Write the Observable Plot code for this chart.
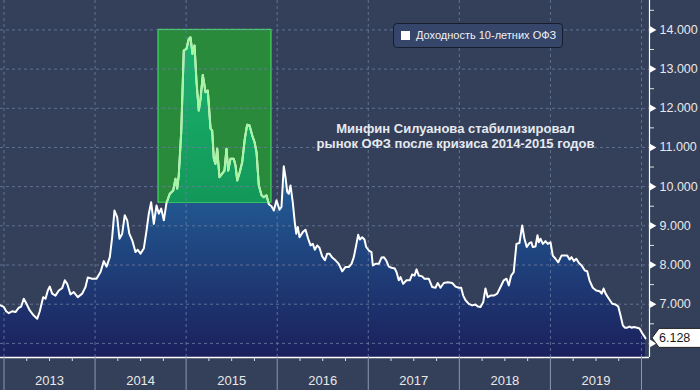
<!DOCTYPE html>
<html><head><meta charset="utf-8">
<script src="https://cdn.jsdelivr.net/npm/d3@7"></script>
<script src="https://cdn.jsdelivr.net/npm/@observablehq/plot@0.6"></script>
<style>
html,body{margin:0;padding:0;background:#343f59;}
#wrap{position:relative;width:700px;height:390px;overflow:hidden;background:#343f59;}
.legend{position:absolute;left:393px;top:23px;width:170px;height:25px;box-sizing:border-box;border:1px solid #161d2e;border-radius:4px;background:#36456a;font:11px "Liberation Sans",Arial,sans-serif;color:#f2f2f2;}
.legend .sw{position:absolute;left:7px;top:7px;width:9px;height:9px;background:#fff;}
.legend .lb{position:absolute;left:22px;top:5px;white-space:nowrap;}
</style></head><body><div id="wrap"></div>
<script>
// decimal years
const dates = [2012.962,2012.998,2013.024,2013.053,2013.090,2013.126,2013.163,2013.189,2013.217,2013.247,2013.283,2013.327,2013.365,2013.393,2013.430,2013.456,2013.481,2013.503,2013.529,2013.565,2013.602,2013.639,2013.668,2013.694,2013.730,2013.766,2013.810,2013.859,2013.895,2013.920,2013.968,2014.016,2014.060,2014.096,2014.126,2014.162,2014.188,2014.213,2014.243,2014.268,2014.298,2014.326,2014.353,2014.375,2014.408,2014.444,2014.469,2014.499,2014.535,2014.565,2014.590,2014.616,2014.645,2014.675,2014.700,2014.726,2014.755,2014.784,2014.821,2014.858,2014.883,2014.902,2014.919,2014.946,2014.974,2015.004,2015.029,2015.048,2015.070,2015.092,2015.114,2015.139,2015.158,2015.183,2015.213,2015.238,2015.268,2015.286,2015.304,2015.322,2015.341,2015.366,2015.396,2015.421,2015.443,2015.462,2015.487,2015.523,2015.542,2015.561,2015.589,2015.616,2015.644,2015.670,2015.696,2015.725,2015.751,2015.773,2015.798,2015.828,2015.853,2015.882,2015.908,2015.937,2015.963,2015.992,2016.025,2016.047,2016.072,2016.091,2016.110,2016.127,2016.146,2016.171,2016.193,2016.209,2016.226,2016.245,2016.281,2016.311,2016.340,2016.366,2016.391,2016.413,2016.439,2016.464,2016.494,2016.523,2016.549,2016.574,2016.604,2016.640,2016.676,2016.714,2016.750,2016.786,2016.816,2016.841,2016.867,2016.889,2016.907,2016.933,2016.958,2016.977,2017.006,2017.035,2017.050,2017.079,2017.116,2017.145,2017.170,2017.197,2017.225,2017.255,2017.291,2017.310,2017.335,2017.354,2017.383,2017.420,2017.456,2017.482,2017.508,2017.530,2017.555,2017.592,2017.617,2017.664,2017.701,2017.738,2017.763,2017.793,2017.829,2017.873,2017.922,2017.958,2017.994,2018.020,2018.042,2018.068,2018.104,2018.141,2018.177,2018.203,2018.232,2018.262,2018.287,2018.312,2018.342,2018.378,2018.416,2018.452,2018.488,2018.518,2018.543,2018.569,2018.597,2018.627,2018.660,2018.690,2018.715,2018.740,2018.769,2018.791,2018.806,2018.836,2018.858,2018.872,2018.891,2018.917,2018.946,2018.971,2019.001,2019.026,2019.056,2019.086,2019.122,2019.158,2019.185,2019.210,2019.232,2019.258,2019.284,2019.313,2019.342,2019.378,2019.404,2019.429,2019.465,2019.503,2019.541,2019.563,2019.584,2019.606,2019.642,2019.679,2019.716,2019.745,2019.770,2019.795,2019.817,2019.843,2019.869,2019.891,2019.916,2019.953,2019.979,2020.008,2020.037,2020.044];
const yields = [6.97,6.93,6.82,6.77,6.82,6.80,6.91,6.94,7.14,7.01,6.84,6.71,6.63,6.82,7.18,7.14,7.35,7.45,7.27,7.22,7.35,7.41,7.61,7.52,7.25,7.31,7.18,7.27,7.44,7.68,7.65,7.65,7.82,8.10,7.96,8.20,8.71,9.39,9.22,8.67,8.80,9.27,9.14,8.81,8.63,8.33,8.39,8.29,8.42,8.88,9.31,9.60,9.05,9.52,9.31,9.44,9.14,9.58,9.82,9.90,10.20,9.95,10.29,11.39,13.47,13.52,13.77,13.81,13.39,13.60,12.67,11.94,12.24,12.85,12.41,12.45,11.48,11.43,10.71,10.58,10.97,10.24,10.33,10.41,10.97,10.41,10.71,10.71,10.54,10.16,10.37,10.63,11.22,11.58,11.56,11.31,11.14,10.88,10.03,9.78,9.73,9.78,9.55,9.50,9.39,9.65,9.41,9.48,10.52,10.24,9.86,9.82,10.03,9.60,9.09,8.80,8.97,8.71,8.84,8.90,8.67,8.50,8.54,8.39,8.50,8.44,8.22,8.12,8.29,8.29,8.19,8.12,8.03,7.84,7.95,7.95,8.03,8.20,8.50,8.77,8.65,8.71,8.65,8.46,8.37,8.33,7.99,8.03,8.03,8.19,8.20,8.12,7.96,7.93,7.91,7.82,7.61,7.69,7.52,7.61,7.61,7.76,7.73,7.89,7.73,7.71,7.65,7.65,7.44,7.42,7.54,7.42,7.54,7.56,7.54,7.45,7.42,7.42,7.22,7.10,7.01,6.97,6.99,6.94,6.93,7.05,7.40,7.18,7.22,7.22,7.27,7.44,7.61,7.65,7.48,7.73,7.82,8.54,8.56,9.01,8.67,8.46,8.56,8.58,8.46,8.47,8.76,8.58,8.67,8.54,8.61,8.54,8.58,8.24,8.16,8.07,8.24,8.24,8.24,8.14,8.20,8.10,8.16,8.05,7.99,7.86,7.84,7.61,7.42,7.35,7.33,7.27,7.40,7.27,7.14,7.01,6.99,6.94,6.71,6.46,6.40,6.40,6.43,6.40,6.42,6.40,6.38,6.26,6.16,6.128];

const xDomain = [2012.9616, 2020.088];
const yDomain = [5.64, 14.75];
const highlightX = [2014.697, 2015.937];
const highlightY = [9.59, 14.0];
const yTicks = [6, 7, 8, 9, 10, 11, 12, 13, 14];
const yLabelTicks = [7, 8, 9, 10, 11, 12, 13, 14];
const yMinorTicks = [6.5, 7.5, 8.5, 9.5, 10.5, 11.5, 12.5, 13.5, 14.5];
const yearTicks = [2013, 2014, 2015, 2016, 2017, 2018, 2019, 2020];
const yearLabelPos = [2013.5, 2014.5, 2015.5, 2016.5, 2017.5, 2018.5, 2019.5];
const yearLabels = ["2013", "2014", "2015", "2016", "2017", "2018", "2019"];
const quarterTicks = [];
for (const y of yearTicks.slice(0, -1)) quarterTicks.push(y + 0.25, y + 0.5, y + 0.75);
const legendLabel = "Доходность 10-летних ОФЗ";
const annotation = "Минфин Силуанова стабилизировал\nрынок ОФЗ после кризиса 2014-2015 годов";
const annotationAt = {x: 2017.958, y: 11.31};

const data = dates.map((t, i) => ({t, v: yields[i]}));
const hlData = data.filter(d => d.t >= highlightX[0] - 0.04 && d.t <= highlightX[1] + 0.04);
const last = data[data.length - 1];
const font = '"Liberation Sans", Arial, sans-serif';
const ns = "http://www.w3.org/2000/svg";
function el(name, attrs) {
  const e = document.createElementNS(ns, name);
  for (const k in attrs) e.setAttribute(k, attrs[k]);
  return e;
}

const defsMark = (index, scales) => {
  const defs = el("defs", {});
  const g1 = el("linearGradient", {id: "blueGrad", gradientUnits: "userSpaceOnUse", x1: 0, x2: 0, y1: scales.y(10.4), y2: scales.y(yDomain[0])});
  g1.appendChild(el("stop", {offset: "0", "stop-color": "#23619a"}));
  g1.appendChild(el("stop", {offset: "1", "stop-color": "#1b205c"}));
  defs.appendChild(g1);
  const g2 = el("linearGradient", {id: "tealGrad", gradientUnits: "userSpaceOnUse", x1: 0, x2: 0, y1: scales.y(highlightY[1]), y2: scales.y(highlightY[0])});
  g2.appendChild(el("stop", {offset: "0", "stop-color": "#1bb46d"}));
  g2.appendChild(el("stop", {offset: "1", "stop-color": "#12985a"}));
  defs.appendChild(g2);
  const cp = el("clipPath", {id: "hlClip"});
  const xa = scales.x(highlightX[0]), xb = scales.x(highlightX[1]);
  const ya = scales.y(highlightY[1]), yb = scales.y(highlightY[0]);
  cp.appendChild(el("rect", {x: xa, y: ya, width: xb - xa, height: yb - ya}));
  defs.appendChild(cp);
  return defs;
};

const tagMark = (index, scales, values, dims) => {
  const g = el("g", {});
  const y = scales.y(last.v);
  const x0 = dims.width - dims.marginRight + 3;
  g.appendChild(el("path", {d: `M${x0},${y} L${x0 + 7},${y - 9.5} L${dims.width + 2},${y - 9.5} L${dims.width + 2},${y + 9.5} L${x0 + 7},${y + 9.5} Z`, fill: "#ffffff", stroke: "#222", "stroke-width": 1}));
  const tx = el("text", {x: x0 + 7, y: y + 4.5, fill: "#1a1a1a", "font-size": 12.5, "font-family": font, "text-anchor": "start"});
  tx.textContent = d3.format(".3f")(last.v);
  g.appendChild(tx);
  return g;
};

const chart = Plot.plot({
  width: 700, height: 390,
  marginLeft: 0, marginTop: 0, marginRight: 51, marginBottom: 33,
  x: {type: "linear", domain: xDomain, label: null},
  y: {type: "linear", domain: yDomain, label: null},
  style: {background: "#343f59", fontFamily: font, overflow: "visible"},
  marks: [
    defsMark,
    Plot.areaY(data, {x: "t", y1: yDomain[0], y2: "v", fill: "url(#blueGrad)"}),
    Plot.rect([0], {x1: highlightX[0], x2: highlightX[1], y1: highlightY[0], y2: highlightY[1], fill: "#2a8a3b", stroke: "#3fdc5c", strokeWidth: 1.2}),
    Plot.areaY(hlData, {x: "t", y1: highlightY[0], y2: "v", fill: "url(#tealGrad)"}),
    Plot.gridX(yearTicks, {stroke: "#6a80a0", strokeOpacity: 0.8, strokeDasharray: "3,3"}),
    Plot.gridY(yTicks, {stroke: "#6a80a0", strokeOpacity: 0.8, strokeDasharray: "3,3"}),
    Plot.lineY(data, {x: "t", y: "v", stroke: "#ffffff", strokeWidth: 2}),
    Plot.lineY(hlData, {x: "t", y: "v", stroke: "#a6f5a2", strokeWidth: 2}),
    Plot.ruleY([yDomain[0]], {stroke: "#ffffff", strokeWidth: 1.5}),
    Plot.ruleX([xDomain[1]], {stroke: "#ffffff", strokeWidth: 1.2}),
    Plot.axisX({ticks: yearTicks, tickSize: 33, tickFormat: () => "", color: "#8c98ae", label: null}),
    Plot.axisX({ticks: quarterTicks, tickSize: 4, tickFormat: () => "", color: "#d8dce4", label: null}),
    Plot.axisX({ticks: yearLabelPos, tickSize: 0, tickPadding: 18, tickFormat: (d, i) => yearLabels[i], fontSize: 13, color: "#e8e8e8", label: null}),
    Plot.axisY({anchor: "right", ticks: yMinorTicks, tickSize: 4, tickFormat: () => "", color: "#e0e0e0", label: null}),
    Plot.axisY({anchor: "right", ticks: yLabelTicks, tickSize: 0, tickPadding: 10, tickFormat: d3.format(".3f"), fontSize: 12.5, color: "#e8e8e8", label: null}),
    Plot.dot(yTicks, {y: d => d, frameAnchor: "right", dx: 2.5, symbol: "triangle", r: 2.8, rotate: 90, fill: "#ffffff", stroke: null}),
    Plot.text([annotation], {x: annotationAt.x, y: annotationAt.y, text: d => d, fontSize: 13, fontWeight: "bold", fill: "#e6eaf0", lineHeight: 1.2, textAnchor: "middle"}),
    tagMark
  ]
});

const areas = chart.querySelectorAll('g[aria-label="area"]');
if (areas[1]) areas[1].setAttribute("clip-path", "url(#hlClip)");
const lines = chart.querySelectorAll('g[aria-label="line"]');
if (lines[1]) lines[1].setAttribute("clip-path", "url(#hlClip)");

const wrap = document.getElementById("wrap");
wrap.appendChild(chart);
const leg = document.createElement("div");
leg.className = "legend";
leg.innerHTML = '<div class="sw"></div><div class="lb"></div>';
leg.querySelector(".lb").textContent = legendLabel;
wrap.appendChild(leg);
</script></body></html>
